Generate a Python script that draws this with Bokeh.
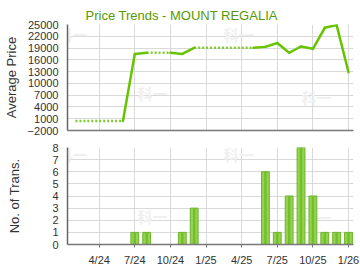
from bokeh.plotting import figure
from bokeh.layouts import column
from bokeh.models import Range1d, FixedTicker, ColumnDataSource
from bokeh.embed import file_html
from bokeh.resources import INLINE

# ---- data ----
months = ["2/24", "3/24", "4/24", "5/24", "6/24", "7/24", "8/24", "9/24", "10/24", "11/24", "12/24",
          "1/25", "2/25", "3/25", "4/25", "5/25", "6/25", "7/25", "8/25", "9/25", "10/25", "11/25",
          "12/25", "1/26"]
month_idx = list(range(1, 25))  # months since Jan 2024
avg_price = [400, 400, 400, 400, 400, 17500, 17800, 17800, 17800, 17500, 19050,
             19050, 19050, 19050, 19050, 19050, 19300, 20300, 17800, 19400, 18800, 24150,
             24850, 12850]
transactions = [0, 0, 0, 0, 0, 1, 1, 0, 0, 1, 3,
                0, 0, 0, 0, 0, 6, 1, 4, 8, 4, 1,
                1, 1]
tick_pos = [3, 6, 9, 12, 15, 18, 21, 24]
tick_labels = ["4/24", "7/24", "10/24", "1/25", "4/25", "7/25", "10/25", "1/26"]
price_ticks = [-2000, 1000, 4000, 7000, 10000, 13000, 16000, 19000, 22000, 25000]
count_ticks = [0, 1, 2, 3, 4, 5, 6, 7, 8]

FONT = "Liberation Sans"
GREEN_T = "#559a00"
LINE_G = "#66c400"
GRID = "#d9d9d9"
TXT = "#333333"

xr = Range1d(0.33, 24.42)

def style(p, ylabel, ticks, standoff):
    p.xaxis.ticker = FixedTicker(ticks=tick_pos)
    p.xaxis.major_label_overrides = {t: l for t, l in zip(tick_pos, tick_labels)}
    p.yaxis.ticker = FixedTicker(ticks=ticks)
    p.yaxis.axis_label = ylabel
    p.yaxis.axis_label_text_font = FONT
    p.yaxis.axis_label_text_font_size = "13px"
    p.yaxis.axis_label_text_font_style = "normal"
    p.yaxis.axis_label_text_color = TXT
    p.yaxis.axis_label_standoff = standoff
    for ax in (p.xaxis, p.yaxis):
        ax.major_label_text_font = FONT
        ax.major_label_text_font_size = "11px"
        ax.major_label_text_color = TXT
        ax.minor_tick_line_color = None
    p.yaxis.major_tick_out = 0
    p.yaxis.major_tick_in = 0
    p.yaxis.major_label_standoff = 9
    p.yaxis.axis_line_color = "#666666"
    p.xaxis.axis_line_color = "#777777"
    p.xaxis.axis_line_width = 1.5
    p.yaxis.axis_line_width = 1.5
    p.xgrid.ticker = FixedTicker(ticks=tick_pos)
    p.ygrid.ticker = FixedTicker(ticks=ticks)
    p.grid.grid_line_color = GRID
    p.outline_line_color = None
    p.background_fill_color = "white"
    p.border_fill_color = "white"

def watermark(p, xs, ys):
    p.text(x=xs, y=ys, text=["科一"] * len(xs), text_font_size="15px",
           text_font={"value": "Noto Sans CJK SC"}, text_font_style="bold",
           text_color="#f0f0f0", text_align="center", text_baseline="middle")

# ---- top: price trend ----
p1 = figure(width=360, height=135, x_range=xr, y_range=Range1d(-2000, 25000),
            output_backend="svg", toolbar_location=None,
            min_border_left=64, min_border_right=7, min_border_top=24, min_border_bottom=5)
style(p1, "Average Price", price_ticks, 6)
p1.xaxis.ticker = FixedTicker(ticks=[])
p1.xaxis.major_tick_out = 0
p1.xaxis.major_tick_in = 0
p1.xaxis.major_label_standoff = 0
watermark(p1, [0.75, 7.5, 14.75, 21.3], [22400, 7400, 22400, 6400])

p1.title.text = "Price Trends - MOUNT REGALIA"
p1.title.text_font = FONT
p1.title.text_font_size = "13px"
p1.title.text_font_style = "normal"
p1.title.text_color = GREEN_T
p1.title.align = "left"
p1.title.offset = 18
p1.title.standoff = 4

solid = dict(x0=[], y0=[], x1=[], y1=[])
dotted = dict(x0=[], y0=[], x1=[], y1=[])
for i in range(len(month_idx) - 1):
    d = solid if transactions[i + 1] > 0 else dotted
    d["x0"].append(month_idx[i]); d["y0"].append(avg_price[i])
    d["x1"].append(month_idx[i + 1]); d["y1"].append(avg_price[i + 1])
p1.segment(x0="x0", y0="y0", x1="x1", y1="y1", source=ColumnDataSource(dotted),
           line_color="#7fcc33", line_width=2.5, line_dash="2 2")
p1.segment(x0="x0", y0="y0", x1="x1", y1="y1", source=ColumnDataSource(solid),
           line_color=LINE_G, line_width=2.5, line_cap="round")

# ---- bottom: transactions ----
p2 = figure(width=360, height=135, x_range=xr, y_range=Range1d(0, 8),
            output_backend="svg", toolbar_location=None,
            min_border_left=64, min_border_right=7, min_border_top=12, min_border_bottom=26)
style(p2, "No. of Trans.", count_ticks, 27)
p2.xaxis.major_tick_out = 3
p2.xaxis.major_tick_in = 0
p2.xaxis.major_tick_line_color = "#777777"
p2.xaxis.major_label_standoff = 6
watermark(p2, [0.75, 7.5, 14.75, 21.3], [7.4, 2.3, 7.4, 2.2])

bars = ColumnDataSource(dict(x=month_idx, top=transactions))
p2.vbar(x="x", top="top", width=0.66, source=bars,
        fill_color="#96d150", line_color="#6ab52a", line_width=1)
p2.vbar(x="x", top="top", width=0.2, source=bars,
        fill_color="#72bf2c", line_color=None)

layout = column(p1, p2, spacing=0)
open("out.html", "w").write(file_html(layout, INLINE))
